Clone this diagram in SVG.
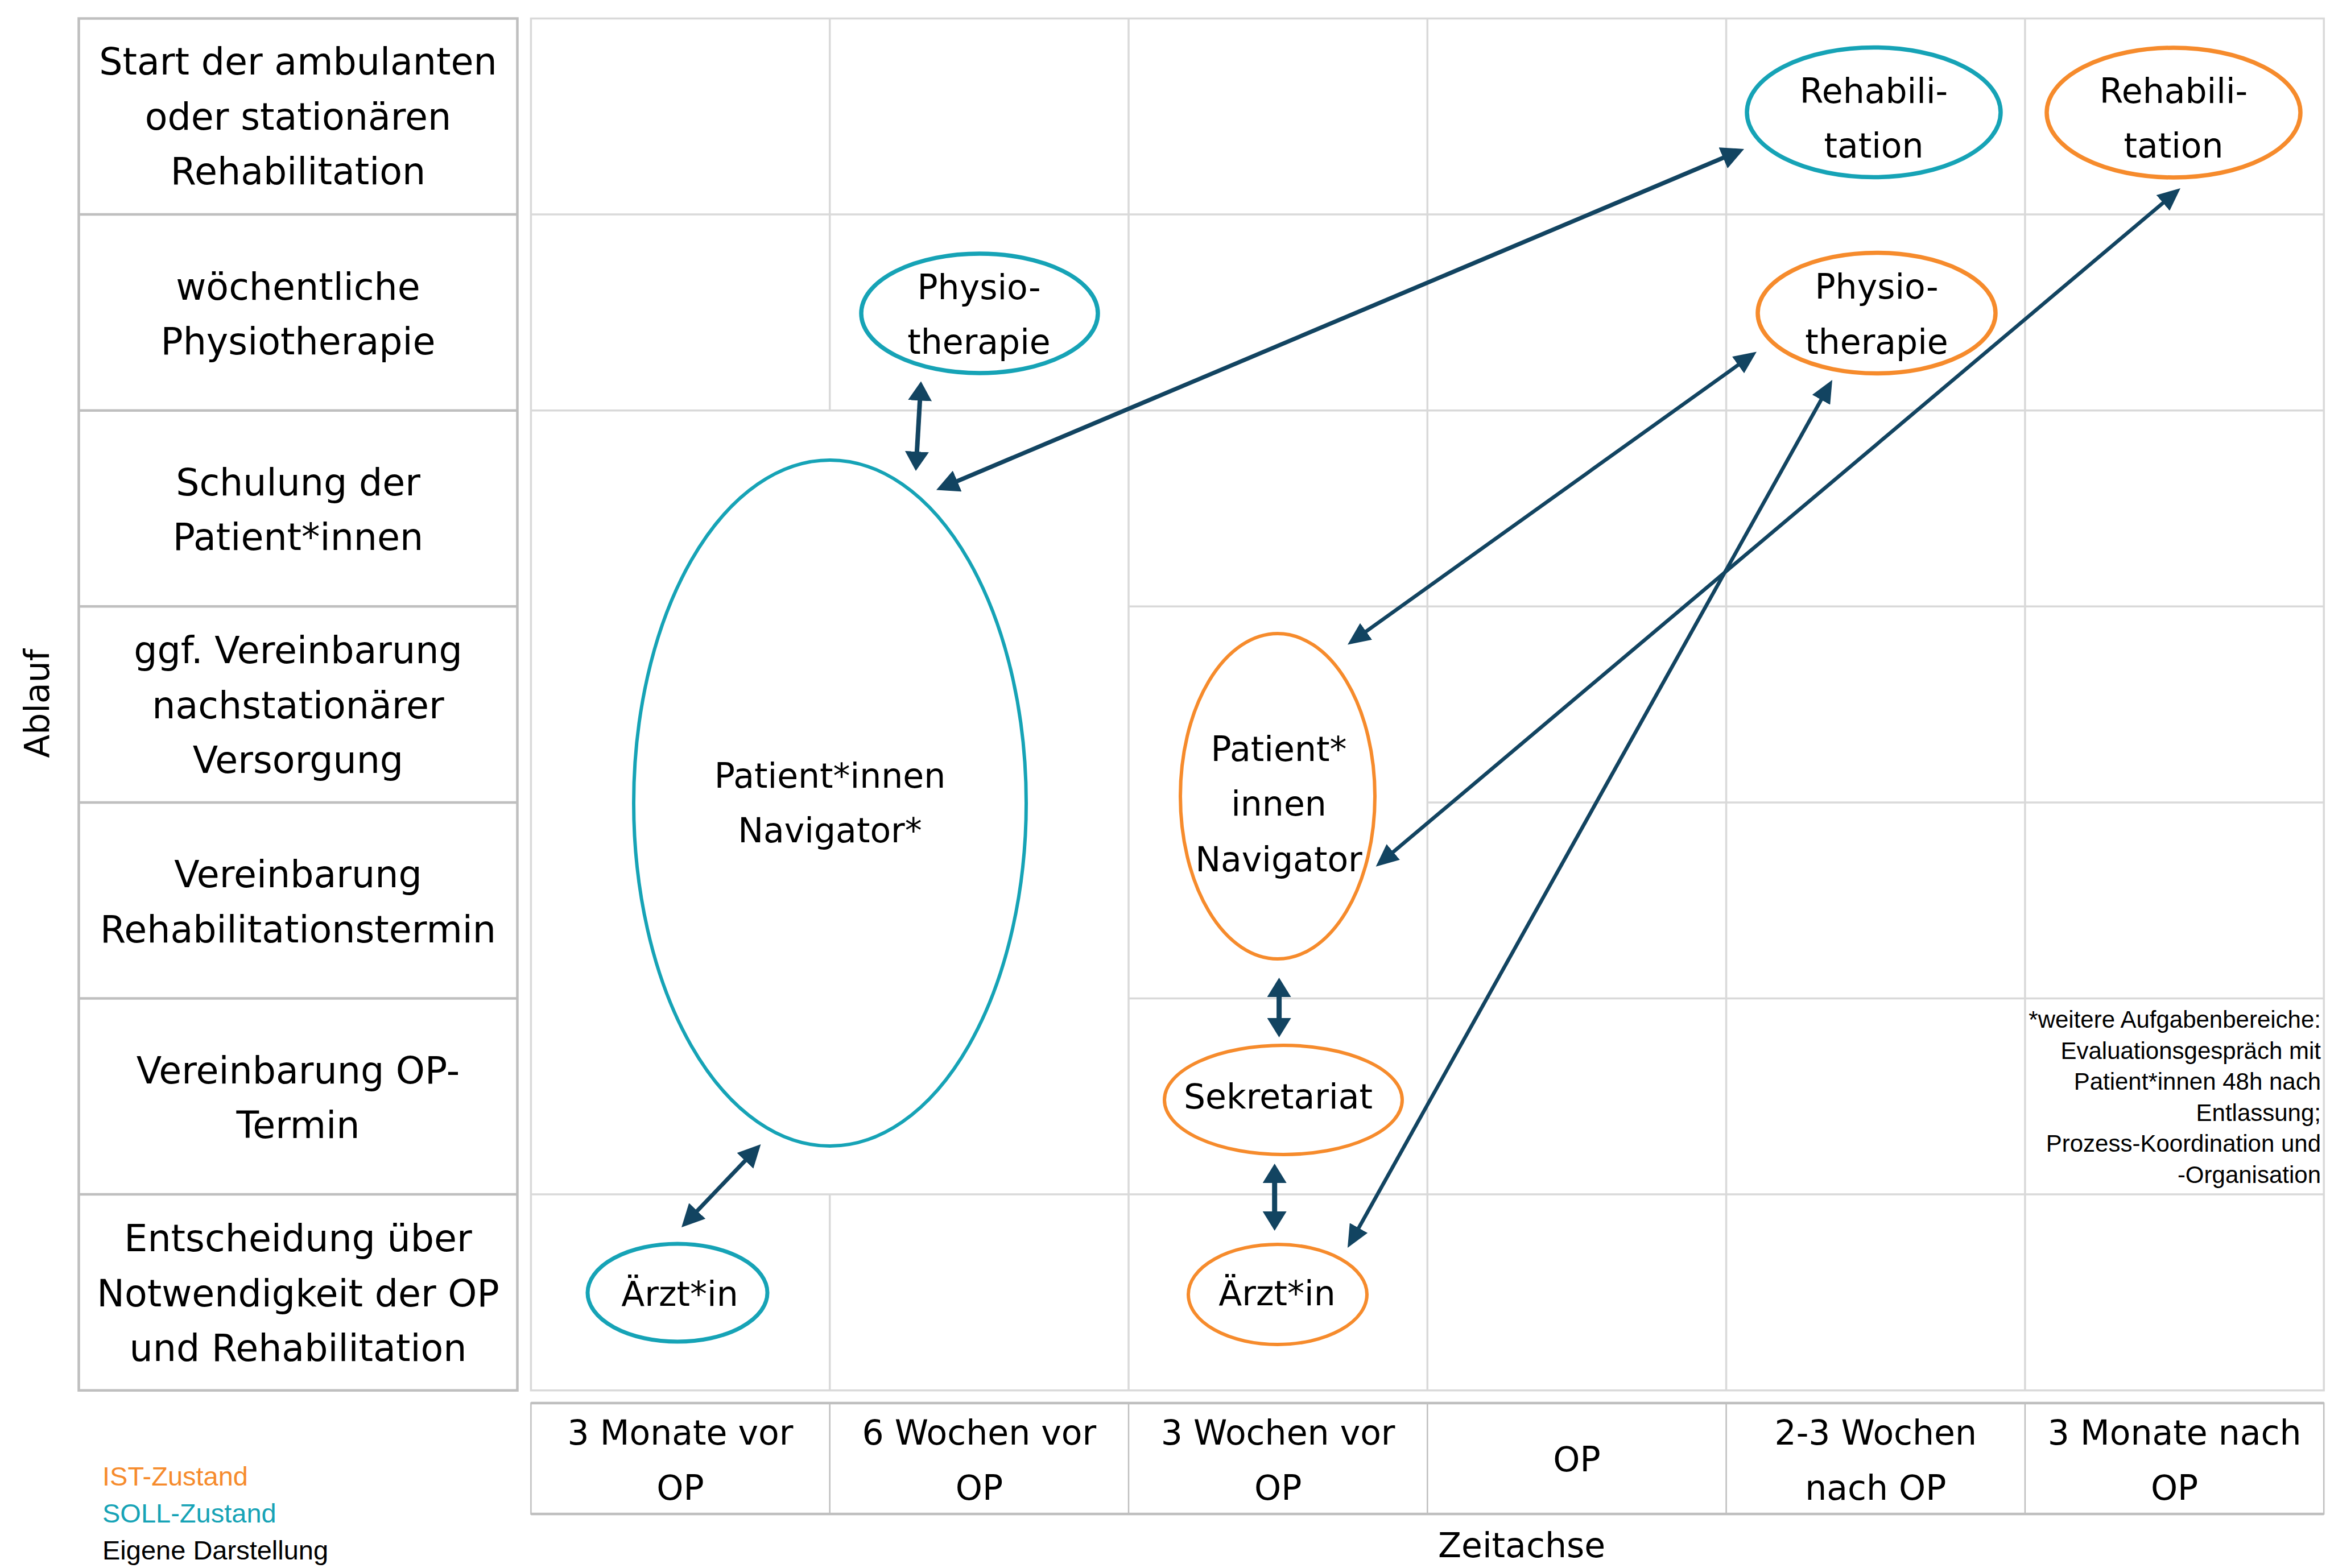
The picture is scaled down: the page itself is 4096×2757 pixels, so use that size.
<svg xmlns="http://www.w3.org/2000/svg" width="4096" height="2757" viewBox="0 0 4096 2757">
<style>
.grid{stroke:#d9d9d9;stroke-width:3.5;fill:none}
.tbl{stroke:#bfbfbf;stroke-width:4.5;fill:none}
.tbl2{stroke:#bfbfbf;stroke-width:2.5;fill:none}
.lbl{font-family:"DejaVu Sans",Verdana,sans-serif;font-size:65px;fill:#000;text-anchor:middle}
.nt{font-family:"DejaVu Sans",Verdana,sans-serif;font-size:60px;fill:#000;text-anchor:middle}
.soll{fill:#fff;stroke:#16a3b6}
.ist{fill:#fff;stroke:#f68b2c}
.con{stroke:#124461;fill:none}
.note{font-family:"Liberation Sans",Arial,sans-serif;font-size:42px;fill:#000;text-anchor:end}
.leg{font-family:"Liberation Sans",Arial,sans-serif;font-size:47px}
</style>
<defs>
<marker id="ah" viewBox="0 0 34 42" refX="2" refY="21" markerWidth="34" markerHeight="42" markerUnits="userSpaceOnUse" orient="auto-start-reverse"><path d="M0,0 L34,21 L0,42 z" fill="#124461"/></marker>
<marker id="am" viewBox="0 0 40 40" refX="2" refY="20" markerWidth="40" markerHeight="40" markerUnits="userSpaceOnUse" orient="auto-start-reverse"><path d="M0,0 L40,20 L0,40 z" fill="#124461"/></marker>
<marker id="as" viewBox="0 0 40 36" refX="2" refY="18" markerWidth="40" markerHeight="36" markerUnits="userSpaceOnUse" orient="auto-start-reverse"><path d="M0,0 L40,18 L0,36 z" fill="#124461"/></marker>
</defs>
<rect width="4096" height="2757" fill="#fff"/>

<g id="row-labels">
<rect class="tbl" x="138.5" y="32.5" width="771" height="2412.2"/>
<line class="tbl" x1="138.5" y1="377.1" x2="909.5" y2="377.1"/>
<line class="tbl" x1="138.5" y1="721.7" x2="909.5" y2="721.7"/>
<line class="tbl" x1="138.5" y1="1066.3" x2="909.5" y2="1066.3"/>
<line class="tbl" x1="138.5" y1="1410.9" x2="909.5" y2="1410.9"/>
<line class="tbl" x1="138.5" y1="1755.5" x2="909.5" y2="1755.5"/>
<line class="tbl" x1="138.5" y1="2100.1" x2="909.5" y2="2100.1"/>
<text class="lbl"><tspan x="524" y="131">Start der ambulanten</tspan><tspan x="524" y="228">oder stationären</tspan><tspan x="524" y="324">Rehabilitation</tspan></text>
<text class="lbl"><tspan x="524" y="527">wöchentliche</tspan><tspan x="524" y="623">Physiotherapie</tspan></text>
<text class="lbl"><tspan x="524" y="871">Schulung der</tspan><tspan x="524" y="967">Patient*innen</tspan></text>
<text class="lbl"><tspan x="524" y="1166">ggf. Vereinbarung</tspan><tspan x="524" y="1263">nachstationärer</tspan><tspan x="524" y="1359">Versorgung</tspan></text>
<text class="lbl"><tspan x="524" y="1560">Vereinbarung</tspan><tspan x="524" y="1657">Rehabilitationstermin</tspan></text>
<text class="lbl"><tspan x="524" y="1905">Vereinbarung OP-</tspan><tspan x="524" y="2001">Termin</tspan></text>
<text class="lbl"><tspan x="524" y="2200">Entscheidung über</tspan><tspan x="524" y="2297">Notwendigkeit der OP</tspan><tspan x="524" y="2393">und Rehabilitation</tspan></text>
</g>

<g id="grid">
<rect class="grid" x="933.4" y="32.5" width="3151.8" height="2412.2"/>
<line class="grid" x1="1458.7" y1="32.5" x2="1458.7" y2="721.7"/>
<line class="grid" x1="1458.7" y1="2100.1" x2="1458.7" y2="2444.7"/>
<line class="grid" x1="1984" y1="32.5" x2="1984" y2="2444.7"/>
<line class="grid" x1="2509.3" y1="32.5" x2="2509.3" y2="2444.7"/>
<line class="grid" x1="3034.6" y1="32.5" x2="3034.6" y2="2444.7"/>
<line class="grid" x1="3559.9" y1="32.5" x2="3559.9" y2="2444.7"/>
<line class="grid" x1="933.4" y1="377.1" x2="4085.2" y2="377.1"/>
<line class="grid" x1="933.4" y1="721.7" x2="4085.2" y2="721.7"/>
<line class="grid" x1="1984" y1="1066.3" x2="4085.2" y2="1066.3"/>
<line class="grid" x1="2509.3" y1="1410.9" x2="4085.2" y2="1410.9"/>
<line class="grid" x1="1984" y1="1755.5" x2="4085.2" y2="1755.5"/>
<line class="grid" x1="933.4" y1="2100.1" x2="4085.2" y2="2100.1"/>
</g>

<g id="time-axis">
<rect class="tbl2" x="933.4" y="2467" width="3151.8" height="195"/>
<line class="tbl" x1="933.4" y1="2467" x2="4085.2" y2="2467"/>
<line class="tbl" x1="933.4" y1="2662" x2="4085.2" y2="2662"/>
<line class="tbl2" x1="1458.7" y1="2467" x2="1458.7" y2="2662"/>
<line class="tbl2" x1="1984" y1="2467" x2="1984" y2="2662"/>
<line class="tbl2" x1="2509.3" y1="2467" x2="2509.3" y2="2662"/>
<line class="tbl2" x1="3034.6" y1="2467" x2="3034.6" y2="2662"/>
<line class="tbl2" x1="3559.9" y1="2467" x2="3559.9" y2="2662"/>
<text class="nt"><tspan x="1196" y="2540">3 Monate vor</tspan><tspan x="1196" y="2637">OP</tspan></text>
<text class="nt"><tspan x="1721.4" y="2540">6 Wochen vor</tspan><tspan x="1721.4" y="2637">OP</tspan></text>
<text class="nt"><tspan x="2246.7" y="2540">3 Wochen vor</tspan><tspan x="2246.7" y="2637">OP</tspan></text>
<text class="nt" x="2772" y="2587">OP</text>
<text class="nt"><tspan x="3297.3" y="2540">2-3 Wochen</tspan><tspan x="3297.3" y="2637">nach OP</tspan></text>
<text class="nt"><tspan x="3822.6" y="2540">3 Monate nach</tspan><tspan x="3822.6" y="2637">OP</tspan></text>
</g>

<text class="nt" x="2675" y="2738">Zeitachse</text>
<text class="nt" font-size="57" transform="translate(86,1237) rotate(-90)" x="0" y="0">Ablauf</text>

<g id="legend">
<text class="leg" x="180" y="2612" fill="#f68b2c">IST-Zustand</text>
<text class="leg" x="180" y="2677" fill="#16a3b6">SOLL-Zustand</text>
<text class="leg" x="180" y="2742" fill="#000">Eigene Darstellung</text>
</g>

<g id="note">
<text class="note"><tspan x="4080" y="1807">*weitere Aufgabenbereiche:</tspan><tspan x="4080" y="1862">Evaluationsgespräch mit</tspan><tspan x="4080" y="1916">Patient*innen 48h nach</tspan><tspan x="4080" y="1971">Entlassung;</tspan><tspan x="4080" y="2025">Prozess-Koordination und</tspan><tspan x="4080" y="2080">-Organisation</tspan></text>
</g>

<g id="node-navigator-soll">
<ellipse class="soll" stroke-width="6" cx="1459" cy="1412" rx="345" ry="603"/>
<text class="nt" font-size="61"><tspan x="1459" y="1385">Patient*innen</tspan><tspan x="1459" y="1481">Navigator*</tspan></text>
</g>
<g id="node-physio-soll">
<ellipse class="soll" stroke-width="7.5" cx="1722" cy="551" rx="208" ry="105"/>
<text class="nt"><tspan x="1721" y="526">Physio-</tspan><tspan x="1721" y="622">therapie</tspan></text>
</g>
<g id="node-rehab-soll">
<ellipse class="soll" stroke-width="7.5" cx="3294" cy="197.5" rx="223" ry="114"/>
<text class="nt"><tspan x="3294" y="181">Rehabili-</tspan><tspan x="3294" y="277">tation</tspan></text>
</g>
<g id="node-arzt-soll">
<ellipse class="soll" stroke-width="7" cx="1191" cy="2273" rx="158" ry="86"/>
<text class="nt" x="1195" y="2296">Ärzt*in</text>
</g>
<g id="node-rehab-ist">
<ellipse class="ist" stroke-width="7.5" cx="3821" cy="198" rx="223" ry="114"/>
<text class="nt"><tspan x="3821" y="181">Rehabili-</tspan><tspan x="3821" y="277">tation</tspan></text>
</g>
<g id="node-physio-ist">
<ellipse class="ist" stroke-width="7.5" cx="3299" cy="550.5" rx="209" ry="106"/>
<text class="nt"><tspan x="3299" y="525">Physio-</tspan><tspan x="3299" y="622">therapie</tspan></text>
</g>
<g id="node-navigator-ist">
<ellipse class="ist" stroke-width="6" cx="2246" cy="1400" rx="171" ry="286"/>
<text class="nt"><tspan x="2248" y="1338">Patient*</tspan><tspan x="2248" y="1434">innen</tspan><tspan x="2248" y="1532">Navigator</tspan></text>
</g>
<g id="node-sekretariat">
<ellipse class="ist" stroke-width="6" cx="2256" cy="1934" rx="209" ry="96"/>
<text class="nt" x="2247" y="1949">Sekretariat</text>
</g>
<g id="node-arzt-ist">
<ellipse class="ist" stroke-width="6" cx="2246" cy="2276" rx="157" ry="88"/>
<text class="nt" x="2245" y="2295">Ärzt*in</text>
</g>

<g id="connectors">
<line class="con" stroke-width="8" marker-start="url(#ah)" marker-end="url(#ah)" x1="1617.2" y1="702.4" x2="1611.8" y2="796.1"/>
<line class="con" stroke-width="7.5" marker-start="url(#am)" marker-end="url(#am)" x1="1681" y1="846.7" x2="3031" y2="276.8"/>
<line class="con" stroke-width="7" marker-start="url(#am)" marker-end="url(#am)" x1="1224.3" y1="2130.5" x2="1311.2" y2="2039.5"/>
<line class="con" stroke-width="6.5" marker-start="url(#as)" marker-end="url(#as)" x1="2399.9" y1="1111.4" x2="3057.1" y2="640.6"/>
<line class="con" stroke-width="6.5" marker-start="url(#as)" marker-end="url(#as)" x1="2447.7" y1="1499.3" x2="3804" y2="355.5"/>
<line class="con" stroke-width="6.5" marker-start="url(#as)" marker-end="url(#as)" x1="2387.5" y1="2160.8" x2="3202.5" y2="701.2"/>
<line class="con" stroke-width="9" marker-start="url(#ah)" marker-end="url(#ah)" x1="2248.6" y1="1751" x2="2248.6" y2="1792"/>
<line class="con" stroke-width="9" marker-start="url(#ah)" marker-end="url(#ah)" x1="2240.7" y1="2078" x2="2240.7" y2="2132"/>
</g>
</svg>
